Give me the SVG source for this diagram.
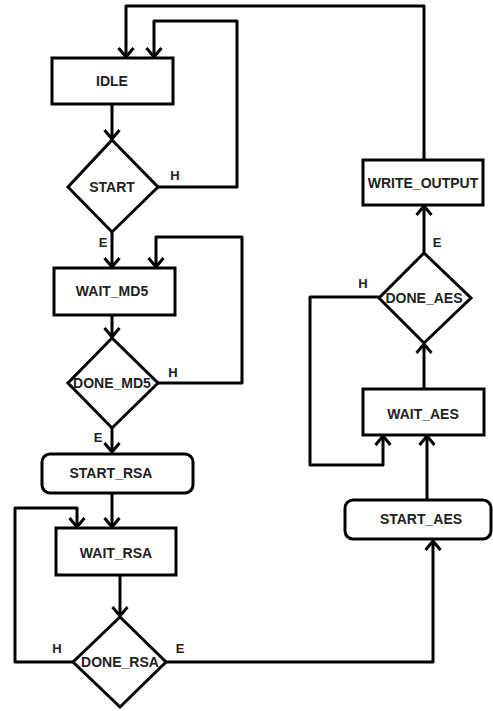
<svg xmlns="http://www.w3.org/2000/svg" width="493" height="711" viewBox="0 0 493 711">
  <style>
    .box { fill: #fff; stroke: #000; stroke-width: 3; }
    .wire { fill: none; stroke: #000; stroke-width: 3; stroke-linejoin: round; marker-end: url(#arrow); }
    .name { font-family: "Liberation Sans", Arial, sans-serif; font-size: 14px; font-weight: bold; fill: #222; text-anchor: middle; }
    .cond { font-family: "Liberation Sans", Arial, sans-serif; font-size: 13px; font-weight: bold; fill: #222; text-anchor: middle; }
  </style>
  <defs>
    <marker id="arrow" markerUnits="userSpaceOnUse" viewBox="-12 -10 14 20" markerWidth="14" markerHeight="20" refX="0" refY="0" orient="auto">
      <path d="M-9,-7.5 L0,0 L-9,7.5" fill="none" stroke="#000" stroke-width="3" stroke-linejoin="round"/>
    </marker>
  </defs>
  <rect width="493" height="711" fill="#fff"/>

  <!-- connectors -->
  <g id="connectors">
    <path class="wire" d="M112,104 V139"/>
    <path class="wire" d="M158,187 H237 V21 H154 V57"/>
    <path class="wire" d="M424,160 V6 H126 V57"/>
    <path class="wire" d="M112,232 V267"/>
    <path class="wire" d="M112,315 V337"/>
    <path class="wire" d="M158,383 H242 V237 H156 V267"/>
    <path class="wire" d="M112,428 V452"/>
    <path class="wire" d="M112,493 V527"/>
    <path class="wire" d="M120,575 V616"/>
    <path class="wire" d="M73,662 H15 V508 H77 V527"/>
    <path class="wire" d="M166,662 H433 V541"/>
    <path class="wire" d="M427,500 V436"/>
    <path class="wire" d="M424,389 V344"/>
    <path class="wire" d="M379,297 H310 V465 H383 V436"/>
    <path class="wire" d="M424,253 V206"/>
    <text class="cond" x="175" y="180">H</text>
    <text class="cond" x="103" y="247">E</text>
    <text class="cond" x="173" y="377">H</text>
    <text class="cond" x="98" y="442">E</text>
    <text class="cond" x="57" y="653">H</text>
    <text class="cond" x="180" y="653">E</text>
    <text class="cond" x="363" y="288">H</text>
    <text class="cond" x="437" y="247">E</text>
  </g>

  <g id="idle">
    <rect class="box" x="52" y="58" width="121" height="46"/>
    <text class="name" x="112" y="86">IDLE</text>
  </g>
  <g id="start">
    <polygon class="box" points="112,140 158,187 112,232 68,187"/>
    <text class="name" x="112" y="192">START</text>
  </g>
  <g id="wait_md5">
    <rect class="box" x="54" y="268" width="121" height="47"/>
    <text class="name" x="112" y="296">WAIT_MD5</text>
  </g>
  <g id="done_md5">
    <polygon class="box" points="112,338 158,383 112,428 68,383"/>
    <text class="name" x="112" y="388">DONE_MD5</text>
  </g>
  <g id="start_rsa">
    <rect class="box" x="42" y="454" width="151" height="39" rx="8"/>
    <text class="name" x="111" y="478">START_RSA</text>
  </g>
  <g id="wait_rsa">
    <rect class="box" x="56" y="528" width="120" height="47"/>
    <text class="name" x="116" y="558">WAIT_RSA</text>
  </g>
  <g id="done_rsa">
    <polygon class="box" points="120,617 166,662 120,707 73,662"/>
    <text class="name" x="120" y="667">DONE_RSA</text>
  </g>
  <g id="start_aes">
    <rect class="box" x="345" y="500" width="146" height="39" rx="8"/>
    <text class="name" x="421" y="524">START_AES</text>
  </g>
  <g id="wait_aes">
    <rect class="box" x="363" y="389" width="121" height="46"/>
    <text class="name" x="423" y="419">WAIT_AES</text>
  </g>
  <g id="done_aes">
    <polygon class="box" points="424,253 471,298 424,343 379,298"/>
    <text class="name" x="424" y="303">DONE_AES</text>
  </g>
  <g id="write_output">
    <rect class="box" x="363" y="160" width="120" height="45"/>
    <text class="name" x="423" y="188">WRITE_OUTPUT</text>
  </g>
</svg>
